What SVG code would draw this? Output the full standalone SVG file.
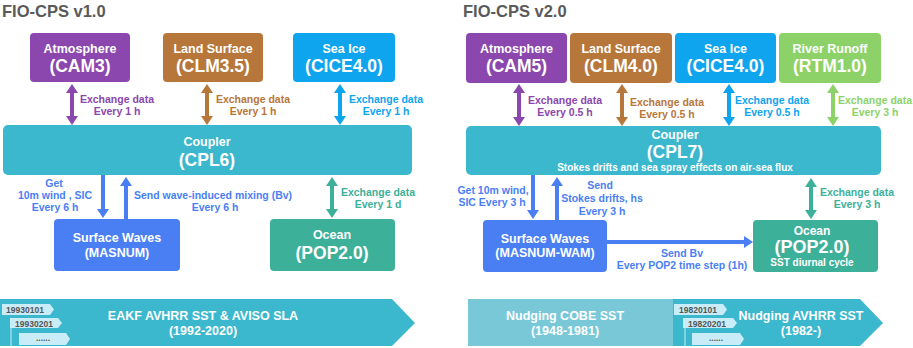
<svg xmlns="http://www.w3.org/2000/svg" width="913" height="348" viewBox="0 0 913 348">
<style>
text{font-family:"Liberation Sans",Arial,sans-serif;font-weight:bold}
.title{font-size:16.5px;fill:#5a5a5a}
.w{fill:#fff;text-anchor:middle}
.l1{font-size:12.5px}
.l2{font-size:17.5px}
.lab{font-size:10.5px;text-anchor:middle}
.tag{fill:#c8edf8}
.tagt{font-size:8.5px;fill:#555;text-anchor:middle}
.sh{stroke-width:4;fill:none}
</style>
<defs>
<marker id="mPur" markerUnits="userSpaceOnUse" markerWidth="9" markerHeight="12" refX="2" refY="6" orient="auto-start-reverse"><path d="M0,0L9,6L0,12z" fill="#8b47ae"/></marker>
<marker id="mBro" markerUnits="userSpaceOnUse" markerWidth="9" markerHeight="12" refX="2" refY="6" orient="auto-start-reverse"><path d="M0,0L9,6L0,12z" fill="#b8773a"/></marker>
<marker id="mIce" markerUnits="userSpaceOnUse" markerWidth="9" markerHeight="12" refX="2" refY="6" orient="auto-start-reverse"><path d="M0,0L9,6L0,12z" fill="#0ea5ee"/></marker>
<marker id="mRiv" markerUnits="userSpaceOnUse" markerWidth="9" markerHeight="12" refX="2" refY="6" orient="auto-start-reverse"><path d="M0,0L9,6L0,12z" fill="#8cd269"/></marker>
<marker id="mWav" markerUnits="userSpaceOnUse" markerWidth="9" markerHeight="12" refX="2" refY="6" orient="auto-start-reverse"><path d="M0,0L9,6L0,12z" fill="#4a7ff4"/></marker>
<marker id="mOce" markerUnits="userSpaceOnUse" markerWidth="9" markerHeight="12" refX="2" refY="6" orient="auto-start-reverse"><path d="M0,0L9,6L0,12z" fill="#3db09a"/></marker>
</defs>

<text class="title" x="2" y="17">FIO-CPS v1.0</text>
<text class="title" x="463" y="17">FIO-CPS v2.0</text>

<!-- v1 nodes -->
<g id="v1-atm"><rect x="30" y="33" width="100" height="49" rx="4" fill="#8b47ae"/><text class="w l1" x="80" y="53">Atmosphere</text><text class="w l2" x="80" y="72">(CAM3)</text></g>
<g id="v1-lnd"><rect x="163" y="33" width="100" height="49" rx="4" fill="#b8773a"/><text class="w l1" x="213" y="53">Land Surface</text><text class="w l2" x="213" y="72">(CLM3.5)</text></g>
<g id="v1-ice"><rect x="293" y="33" width="102" height="49" rx="4" fill="#0ea5ee"/><text class="w l1" x="344" y="53">Sea Ice</text><text class="w l2" x="344" y="72">(CICE4.0)</text></g>
<g id="v1-cpl"><rect x="3" y="125" width="409" height="50" rx="5" fill="#3bb8ce"/><text class="w l1" x="207" y="146">Coupler</text><text class="w l2" x="207" y="166">(CPL6)</text></g>
<g id="v1-wav"><rect x="54" y="219" width="126" height="52" rx="4" fill="#4a7ff4"/><text class="w" font-size="12.5" x="117" y="242">Surface Waves</text><text class="w" font-size="12.5" x="117" y="257">(MASNUM)</text></g>
<g id="v1-oce"><rect x="270" y="219" width="125" height="52" rx="4" fill="#3db09a"/><text class="w l1" x="332" y="239">Ocean</text><text class="w l2" x="332" y="259">(POP2.0)</text></g>

<!-- v2 nodes -->
<g id="v2-atm"><rect x="466" y="33" width="101" height="50" rx="4" fill="#8b47ae"/><text class="w l1" x="516.5" y="53">Atmosphere</text><text class="w l2" x="516.5" y="72">(CAM5)</text></g>
<g id="v2-lnd"><rect x="570" y="33" width="102" height="50" rx="4" fill="#b8773a"/><text class="w l1" x="621" y="53">Land Surface</text><text class="w l2" x="621" y="72">(CLM4.0)</text></g>
<g id="v2-ice"><rect x="675" y="33" width="101" height="50" rx="4" fill="#0ea5ee"/><text class="w l1" x="725.5" y="53">Sea Ice</text><text class="w l2" x="725.5" y="72">(CICE4.0)</text></g>
<g id="v2-riv"><rect x="779" y="33" width="102" height="50" rx="4" fill="#8cd269"/><text class="w l1" x="830" y="53">River Runoff</text><text class="w l2" x="830" y="72">(RTM1.0)</text></g>
<g id="v2-cpl"><rect x="466" y="126" width="415" height="49" rx="5" fill="#3bb8ce"/><text class="w l1" x="675" y="139">Coupler</text><text class="w l2" x="675" y="158">(CPL7)</text><text class="w" font-size="10" x="675" y="171">Stokes drifts and sea spray effects on air-sea flux</text></g>
<g id="v2-wav"><rect x="483" y="220" width="124" height="52" rx="4" fill="#4a7ff4"/><text class="w" font-size="12.5" x="545" y="243">Surface Waves</text><text class="w" font-size="12.5" x="545" y="257">(MASNUM-WAM)</text></g>
<g id="v2-oce"><rect x="753" y="220" width="125" height="52" rx="4" fill="#3db09a"/><text class="w" font-size="12" x="812" y="235">Ocean</text><text class="w" font-size="18" x="812" y="253">(POP2.0)</text><text class="w" font-size="10" x="812" y="266">SST diurnal cycle</text></g>

<!-- connectors -->
<g id="connectors">
<line class="sh" x1="72" y1="91" x2="72" y2="118" stroke="#8b47ae" marker-start="url(#mPur)" marker-end="url(#mPur)"/>
<line class="sh" x1="207" y1="91" x2="207" y2="118" stroke="#b8773a" marker-start="url(#mBro)" marker-end="url(#mBro)"/>
<line class="sh" x1="340" y1="91" x2="340" y2="118" stroke="#0ea5ee" marker-start="url(#mIce)" marker-end="url(#mIce)"/>
<line class="sh" x1="103" y1="175" x2="103" y2="211" stroke="#4a7ff4" marker-end="url(#mWav)"/>
<line class="sh" x1="126" y1="219" x2="126" y2="184" stroke="#4a7ff4" marker-end="url(#mWav)"/>
<line class="sh" x1="332" y1="184" x2="332" y2="211" stroke="#3db09a" marker-start="url(#mOce)" marker-end="url(#mOce)"/>

<line class="sh" x1="519" y1="91" x2="519" y2="119" stroke="#8b47ae" marker-start="url(#mPur)" marker-end="url(#mPur)"/>
<line class="sh" x1="622" y1="91" x2="622" y2="119" stroke="#b8773a" marker-start="url(#mBro)" marker-end="url(#mBro)"/>
<line class="sh" x1="729" y1="91" x2="729" y2="119" stroke="#0ea5ee" marker-start="url(#mIce)" marker-end="url(#mIce)"/>
<line class="sh" x1="833" y1="91" x2="833" y2="119" stroke="#8cd269" marker-start="url(#mRiv)" marker-end="url(#mRiv)"/>
<line class="sh" x1="533" y1="175" x2="533" y2="212" stroke="#4a7ff4" marker-end="url(#mWav)"/>
<line class="sh" x1="557" y1="220" x2="557" y2="184" stroke="#4a7ff4" marker-end="url(#mWav)"/>
<line class="sh" x1="811" y1="185" x2="811" y2="212" stroke="#3db09a" marker-start="url(#mOce)" marker-end="url(#mOce)"/>
<line class="sh" x1="607" y1="242" x2="746" y2="242" stroke="#4a7ff4" stroke-width="3" marker-end="url(#mWav)"/>

<text class="lab" fill="#8b47ae" x="117" y="103">Exchange data</text><text class="lab" fill="#8b47ae" x="117" y="115">Every 1 h</text>
<text class="lab" fill="#b8773a" x="253" y="103">Exchange data</text><text class="lab" fill="#b8773a" x="253" y="115">Every 1 h</text>
<text class="lab" fill="#0ea5ee" x="386" y="103">Exchange data</text><text class="lab" fill="#0ea5ee" x="386" y="115">Every 1 h</text>
<text class="lab" fill="#4a7ff4" x="54" y="187">Get</text><text class="lab" fill="#4a7ff4" x="55" y="199">10m wind , SIC</text><text class="lab" fill="#4a7ff4" x="55" y="211">Every 6 h</text>
<text class="lab" fill="#4a7ff4" x="213" y="199">Send wave-induced mixing (Bv)</text><text class="lab" fill="#4a7ff4" x="215" y="211">Every 6 h</text>
<text class="lab" fill="#3db09a" x="378" y="196">Exchange data</text><text class="lab" fill="#3db09a" x="378" y="208">Every 1 d</text>

<text class="lab" fill="#8b47ae" x="565" y="104">Exchange data</text><text class="lab" fill="#8b47ae" x="565" y="116">Every 0.5 h</text>
<text class="lab" fill="#b8773a" x="667" y="106">Exchange data</text><text class="lab" fill="#b8773a" x="667" y="118">Every 0.5 h</text>
<text class="lab" fill="#0ea5ee" x="772" y="104">Exchange data</text><text class="lab" fill="#0ea5ee" x="772" y="116">Every 0.5 h</text>
<text class="lab" fill="#8cd269" x="875" y="104">Exchange data</text><text class="lab" fill="#8cd269" x="875" y="116">Every 3 h</text>
<text class="lab" fill="#4a7ff4" x="493" y="194">Get 10m wind,</text><text class="lab" fill="#4a7ff4" x="492" y="206">SIC Every 3 h</text>
<text class="lab" fill="#4a7ff4" x="600" y="189">Send</text><text class="lab" fill="#4a7ff4" x="602" y="202">Stokes drifts, hs</text><text class="lab" fill="#4a7ff4" x="602" y="215">Every 3 h</text>
<text class="lab" fill="#3db09a" x="857" y="196">Exchange data</text><text class="lab" fill="#3db09a" x="857" y="208">Every 3 h</text>
<text class="lab" fill="#4a7ff4" x="682" y="257">Send Bv</text><text class="lab" fill="#4a7ff4" x="682" y="269">Every POP2 time step (1h)</text>
</g>

<!-- timelines -->
<g id="v1-timeline">
<polygon points="0,299 392,299 415,323 392,346 0,346" fill="#3bb8ce"/>
<text class="w l1" x="203" y="320">EAKF AVHRR SST &amp; AVISO SLA</text>
<text class="w l1" x="203" y="335">(1992-2020)</text>
<line x1="11" y1="328" x2="11" y2="346" stroke="#c8edf8" stroke-width="1"/>
<polygon class="tag" points="2,304 50,304 54,309.5 50,315 2,315"/>
<text class="tagt" x="25" y="313">19930101</text>
<polygon class="tag" points="10,318 58,318 62,323 58,328 10,328"/>
<text class="tagt" x="34" y="326.5">19930201</text>
<polygon class="tag" points="19,333 66,333 70,339 66,345 19,345"/>
<text class="tagt" x="43" y="341">......</text>
</g>
<g id="v2-timeline">
<rect x="468" y="299" width="205" height="47" fill="#78c8d8"/>
<polygon points="673,299 860,299 883,323 860,346 673,346" fill="#3bb8ce"/>
<text class="w l1" x="565" y="320">Nudging COBE SST</text>
<text class="w l1" x="565" y="335">(1948-1981)</text>
<text class="w l1" x="801" y="320">Nudging AVHRR SST</text>
<text class="w l1" x="801" y="335">(1982-)</text>
<line x1="685" y1="328" x2="685" y2="346" stroke="#c8edf8" stroke-width="1"/>
<polygon class="tag" points="674,304 723,304 727,309.5 723,315 674,315"/>
<text class="tagt" x="698" y="313">19820101</text>
<polygon class="tag" points="683,318 733,318 737,323 733,328 683,328"/>
<text class="tagt" x="707" y="326.5">19820201</text>
<polygon class="tag" points="692,333 740,333 744,339 740,345 692,345"/>
<text class="tagt" x="716" y="341">......</text>
</g>
</svg>
